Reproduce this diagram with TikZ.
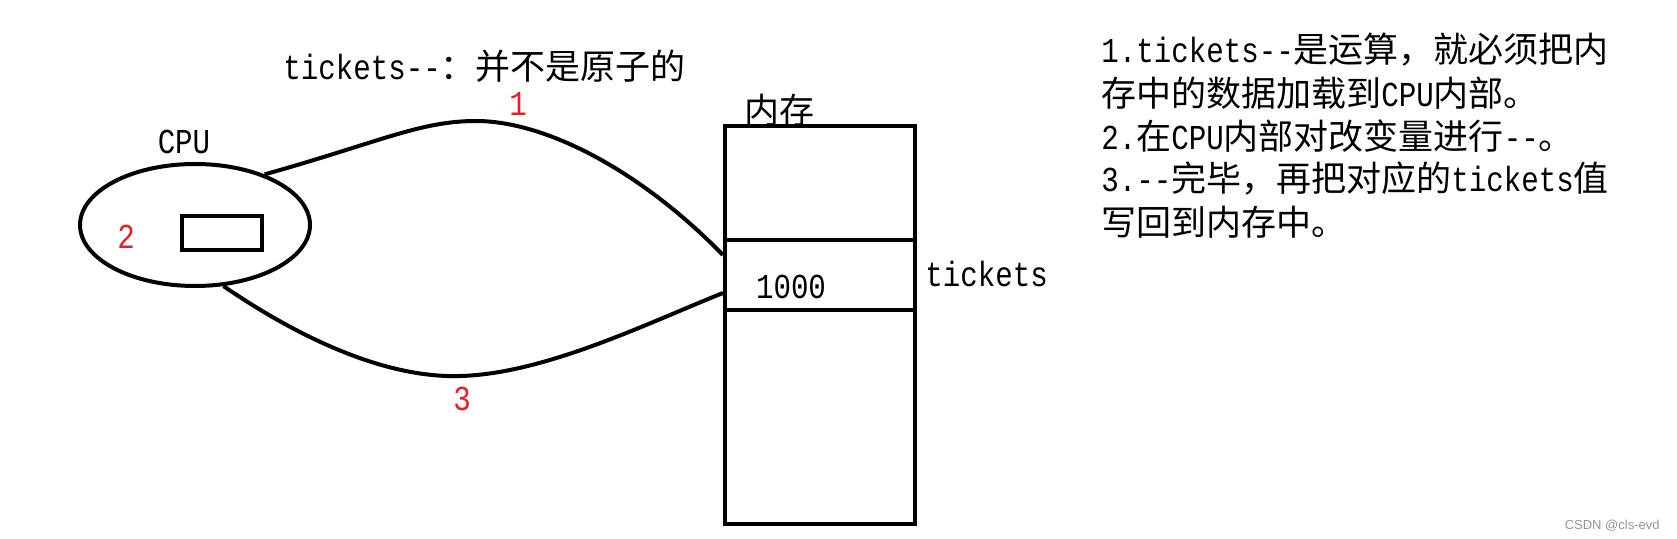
\documentclass[tikz,border=0pt]{standalone}
\usepackage{fontspec}
\usetikzlibrary{shapes.geometric}
\newfontfamily\cjk{Noto Sans CJK SC}
\newfontfamily\mono[FakeStretch=0.833]{Liberation Mono}
\newfontfamily\wmfont{Liberation Sans}
\definecolor{labred}{RGB}{237,28,36}
\definecolor{wmgray}{RGB}{150,150,150}
\tikzset{
  txt/.style={inner sep=0pt, font=\fontsize{17.5}{21}\selectfont},
  lab/.style={txt, text=labred},
  heavy/.style={line width=2pt},
  box/.style={draw, heavy, inner sep=0pt, minimum width=95pt},
}
\begin{document}
\begin{tikzpicture}[x=0.5pt,y=-0.5pt]
\fill[white] (0,0) rectangle (1677,539);
\useasboundingbox (0,0) rectangle (1677,539);

% title
\node[txt, anchor=west] (title) at (283,66) {{\mono tickets-{}-}{\cjk ：并不是原子的}};

% CPU
\node[draw, heavy, ellipse, inner sep=0pt, minimum width=115pt, minimum height=61pt] (cpu) at (195,225) {};
\node[draw, heavy, inner sep=0pt, minimum width=40pt, minimum height=17pt] (reg) at (222,233) {};
\node[txt] (cpulabel) at (184,142) {\mono CPU};
\node[lab] (l2) at (126,237) {\mono 2};

% memory
\node[box, minimum height=57pt] (memtop) at (820,183) {};
\node[box, minimum height=35pt] (cell) at (820,275) {};
\node[box, minimum height=107pt] (membot) at (820,417) {};
\node[txt] (memlabel) at (779,110) {\cjk 内存};
\node[txt] (val) at (791,287) {\mono 1000};
\node[txt, anchor=west] (tk) at (925,274) {\mono tickets};

% connectors
\coordinate (p1) at (476,121);
\coordinate (p3) at (460,376);
\draw[heavy] (cpu.36) .. controls (380,142) and (420,121) .. (p1)
  .. controls (545,121) and (640,170) .. ([yshift=10pt]cell.west);
\draw[heavy] (cpu.-65) .. controls (320,352) and (400,378) .. (p3)
  .. controls (545,374) and (650,322) .. ([yshift=-9pt]cell.west);
\node[lab] (l1) at (518,104) {\mono 1};
\node[lab] (l3) at (462,399) {\mono 3};

% explanation
\node[txt, anchor=west] (r1) at (1101,50) {{\mono 1.tickets-{}-}{\cjk 是运算，就必须把内}};
\node[txt, anchor=west] (r2) at (1101,93) {{\cjk 存中的数据加载到}{\mono CPU}{\cjk 内部。}};
\node[txt, anchor=west] (r3) at (1101,136) {{\mono 2.}{\cjk 在}{\mono CPU}{\cjk 内部对改变量进行}{\mono -{}-}{\cjk 。}};
\node[txt, anchor=west] (r4) at (1101,179) {{\mono 3.-{}-}{\cjk 完毕，再把对应的}{\mono tickets}{\cjk 值}};
\node[txt, anchor=west] (r5) at (1101,222) {{\cjk 写回到内存中。}};

% watermark
\node[anchor=east, inner sep=0pt, text=wmgray, font=\wmfont\fontsize{6.5}{8}\selectfont] (wm) at (1660,526) {CSDN @cls-evd};
\end{tikzpicture}
\end{document}
